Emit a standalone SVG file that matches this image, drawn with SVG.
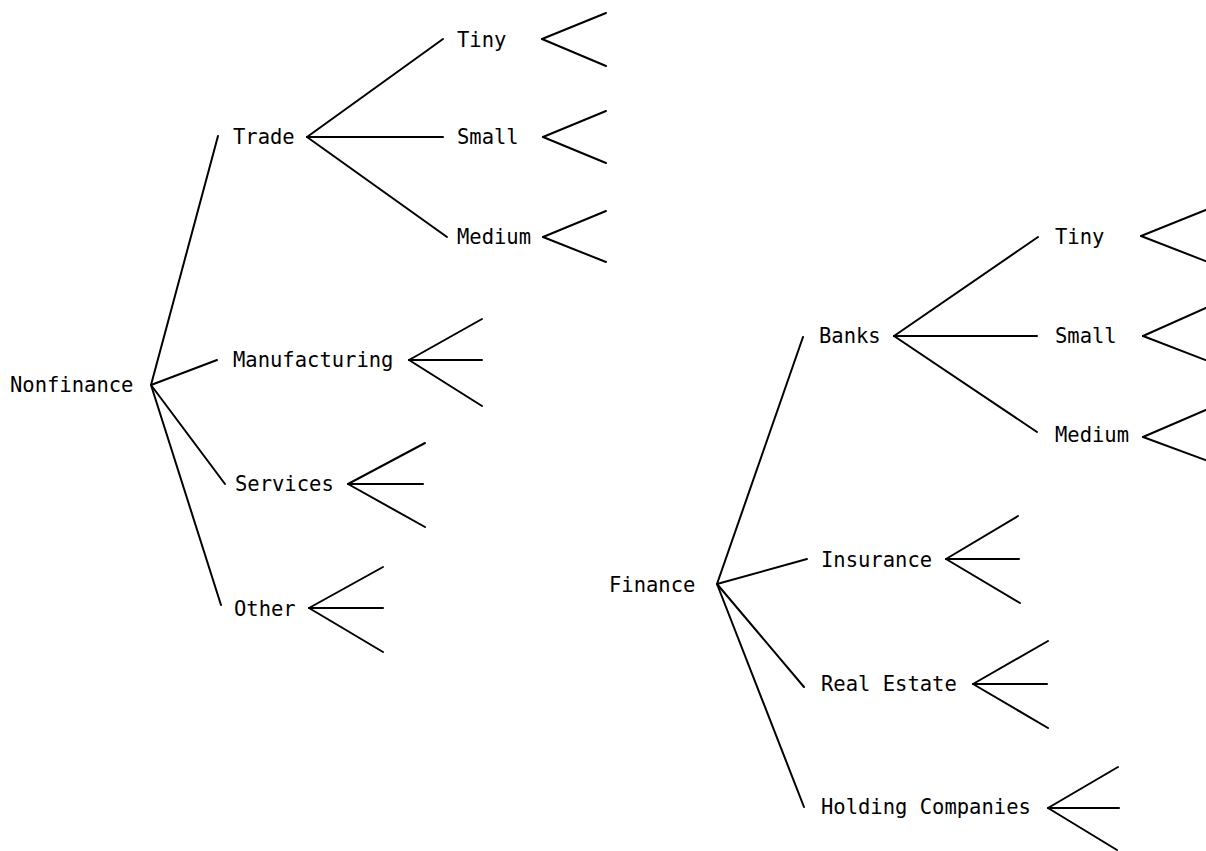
<svg xmlns="http://www.w3.org/2000/svg" width="1206" height="851" viewBox="0 0 1206 851">
<style>
text{font-family:"DejaVu Sans Mono","Liberation Mono",monospace;font-size:20.5px;fill:#000}
line{stroke:#000;stroke-width:2;stroke-linecap:round}
</style>
<rect width="1206" height="851" fill="#fff"/>
<g id="connectors">
<line x1="151" y1="385" x2="218" y2="136"/>
<line x1="151" y1="385" x2="217" y2="360"/>
<line x1="151" y1="385" x2="225" y2="484"/>
<line x1="151" y1="385" x2="221" y2="605"/>
<line x1="307" y1="137" x2="443" y2="39"/>
<line x1="307" y1="137" x2="443" y2="137"/>
<line x1="307" y1="137" x2="447" y2="237"/>
<line x1="542" y1="39" x2="606" y2="13"/>
<line x1="542" y1="39" x2="606" y2="66"/>
<line x1="543" y1="137" x2="606" y2="111"/>
<line x1="543" y1="137" x2="606" y2="163"/>
<line x1="543" y1="237" x2="606" y2="211"/>
<line x1="543" y1="237" x2="606" y2="262"/>
<line x1="409" y1="360" x2="482" y2="319"/>
<line x1="409" y1="360" x2="482" y2="360"/>
<line x1="409" y1="360" x2="482" y2="406"/>
<line x1="348" y1="484" x2="425" y2="443"/>
<line x1="348" y1="484" x2="423" y2="484"/>
<line x1="348" y1="484" x2="425" y2="527"/>
<line x1="309" y1="608" x2="383" y2="567"/>
<line x1="309" y1="608" x2="383" y2="608"/>
<line x1="309" y1="608" x2="383" y2="652"/>
<line x1="717" y1="584" x2="803" y2="337"/>
<line x1="717" y1="584" x2="807" y2="559"/>
<line x1="717" y1="584" x2="804" y2="687"/>
<line x1="717" y1="584" x2="804" y2="807"/>
<line x1="894" y1="336" x2="1038" y2="237"/>
<line x1="894" y1="336" x2="1037" y2="336"/>
<line x1="894" y1="336" x2="1037" y2="432"/>
<line x1="1141" y1="236" x2="1208" y2="209"/>
<line x1="1141" y1="236" x2="1208" y2="262"/>
<line x1="1143" y1="336" x2="1208" y2="307"/>
<line x1="1143" y1="336" x2="1208" y2="361"/>
<line x1="1143" y1="437" x2="1208" y2="409"/>
<line x1="1143" y1="437" x2="1208" y2="461"/>
<line x1="946" y1="559" x2="1018" y2="516"/>
<line x1="946" y1="559" x2="1019" y2="559"/>
<line x1="946" y1="559" x2="1020" y2="603"/>
<line x1="973" y1="684" x2="1048" y2="641"/>
<line x1="973" y1="684" x2="1047" y2="684"/>
<line x1="973" y1="684" x2="1048" y2="728"/>
<line x1="1048" y1="808" x2="1118" y2="767"/>
<line x1="1048" y1="808" x2="1119" y2="808"/>
<line x1="1048" y1="808" x2="1117" y2="850"/>
</g>
<g id="nonfinance"><text x="10" y="392">Nonfinance</text></g>
<g id="trade"><text x="233" y="144">Trade</text></g>
<g id="trade-tiny"><text x="457" y="47">Tiny</text></g>
<g id="trade-small"><text x="457" y="144">Small</text></g>
<g id="trade-medium"><text x="457" y="244">Medium</text></g>
<g id="manufacturing"><text x="233" y="367">Manufacturing</text></g>
<g id="services"><text x="235" y="491">Services</text></g>
<g id="other"><text x="234" y="616">Other</text></g>
<g id="finance"><text x="609" y="592">Finance</text></g>
<g id="banks"><text x="819" y="343">Banks</text></g>
<g id="banks-tiny"><text x="1055" y="244">Tiny</text></g>
<g id="banks-small"><text x="1055" y="343">Small</text></g>
<g id="banks-medium"><text x="1055" y="442">Medium</text></g>
<g id="insurance"><text x="821" y="567">Insurance</text></g>
<g id="real-estate"><text x="821" y="691">Real Estate</text></g>
<g id="holding-companies"><text x="821" y="814">Holding Companies</text></g>
</svg>
